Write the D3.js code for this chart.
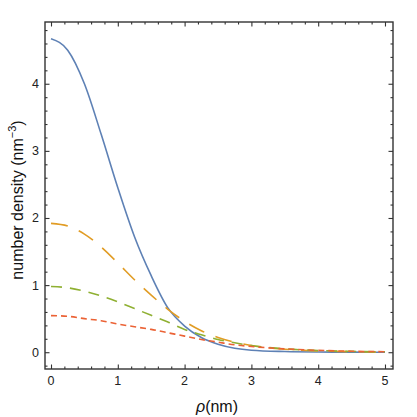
<!DOCTYPE html>
<html>
<head>
<meta charset="utf-8">
<script src="https://cdn.jsdelivr.net/npm/d3@7"></script>
<style>
  body { margin: 0; background: #fff; }
  text { font-family: "Liberation Sans", Arial, sans-serif; }
</style>
</head>
<body>
<div id="chart"></div>
<script>
// rho values (nm) the densities were read at
const rho = [0, 0.25, 0.5, 0.75, 1, 1.25, 1.5, 1.75, 2, 2.25, 2.5, 2.75, 3, 3.5, 4, 4.5, 5];

// number density for each curve
const blue   = [4.67, 4.50, 4.00, 3.25, 2.45, 1.72, 1.14, 0.66, 0.39, 0.22, 0.12, 0.06, 0.03, 0.01, 0.003, 0.001, 0.0];
const orange = [1.92, 1.88, 1.76, 1.57, 1.33, 1.08, 0.85, 0.64, 0.46, 0.32, 0.22, 0.15, 0.10, 0.045, 0.02, 0.008, 0.003];
const green  = [0.98, 0.96, 0.91, 0.84, 0.75, 0.65, 0.55, 0.45, 0.34, 0.26, 0.19, 0.14, 0.10, 0.05, 0.025, 0.012, 0.006];
const red    = [0.545, 0.535, 0.50, 0.47, 0.42, 0.38, 0.34, 0.29, 0.24, 0.19, 0.15, 0.11, 0.085, 0.05, 0.028, 0.015, 0.008];

const xTicks = [0, 1, 2, 3, 4, 5];
const yTicks = [0, 1, 2, 3, 4];

const series = [
  {vals: blue,   color: "#5E81B5", dash: null},
  {vals: orange, color: "#E19C24", dash: "17,12"},
  {vals: green,  color: "#8FB032", dash: "11,8"},
  {vals: red,    color: "#EB6235", dash: "6,4"}
];

let width = 417, height = 417;
let plotL = 45, plotR = 393, plotT = 22, plotB = 369;

let svg = d3.select("#chart").append("svg").attr("width", width).attr("height", height);

let x = d3.scaleLinear().domain([-0.09, 5.12]).range([plotL, plotR]);
let y = d3.scaleLinear().domain([-0.25, 4.92]).range([plotB, plotT]);

svg.append("clipPath").attr("id", "clip")
  .append("rect").attr("x", plotL).attr("y", plotT).attr("width", plotR - plotL).attr("height", plotB - plotT);

let lineGen = d3.line().curve(d3.curveMonotoneX);

series.forEach(s => {
  let pts = rho.map((r, i) => [x(r), y(s.vals[i])]);
  let p = svg.append("path")
    .attr("d", lineGen(pts))
    .attr("clip-path", "url(#clip)")
    .style("fill", "none")
    .style("stroke", s.color)
    .style("stroke-width", 1.6);
  if (s.dash) p.style("stroke-dasharray", s.dash);
});

// minor ticks every 0.2
let xMinor = d3.range(0, 5.11, 0.2).filter(v => Math.abs(v - Math.round(v)) > 0.01);
let yMinor = d3.range(-0.2, 4.91, 0.2).filter(v => Math.abs(v - Math.round(v)) > 0.01);

// frame axes, ticks point inward
function frameAxis(axisFn, scale, ticks, size) {
  return axisFn(scale).tickValues(ticks).tickSize(size).tickFormat("");
}

let gBottom = svg.append("g").attr("transform", `translate(0,${plotB})`);
gBottom.call(frameAxis(d3.axisTop, x, xTicks, 4.5));
gBottom.append("g").call(frameAxis(d3.axisTop, x, xMinor, 2.5));

let gTop = svg.append("g").attr("transform", `translate(0,${plotT})`);
gTop.call(frameAxis(d3.axisBottom, x, xTicks, 4.5));
gTop.append("g").call(frameAxis(d3.axisBottom, x, xMinor, 2.5));

let gLeft = svg.append("g").attr("transform", `translate(${plotL},0)`);
gLeft.call(frameAxis(d3.axisRight, y, yTicks, 4.5));
gLeft.append("g").call(frameAxis(d3.axisRight, y, yMinor, 2.5));

let gRight = svg.append("g").attr("transform", `translate(${plotR},0)`);
gRight.call(frameAxis(d3.axisLeft, y, yTicks, 4.5));
gRight.append("g").call(frameAxis(d3.axisLeft, y, yMinor, 2.5));

svg.selectAll(".domain").remove();
svg.selectAll(".tick line").style("stroke", "#333").style("stroke-width", 1.1);

svg.append("rect")
  .attr("x", plotL).attr("y", plotT).attr("width", plotR - plotL).attr("height", plotB - plotT)
  .style("fill", "none").style("stroke", "#333").style("stroke-width", 1.4);

// tick labels
svg.append("g").selectAll("text").data(xTicks).join("text")
  .attr("x", d => x(d)).attr("y", plotB + 16)
  .attr("text-anchor", "middle").style("font-size", "12.5px").style("fill", "#222")
  .text(d => d);

svg.append("g").selectAll("text").data(yTicks).join("text")
  .attr("x", plotL - 6).attr("y", d => y(d) + 4.5)
  .attr("text-anchor", "end").style("font-size", "12.5px").style("fill", "#222")
  .text(d => d);

// axis labels
let xl = svg.append("text").attr("x", 217).attr("y", 412)
  .attr("text-anchor", "middle").style("font-size", "16px").style("fill", "#111");
xl.append("tspan").style("font-style", "italic").text("ρ");
xl.append("tspan").text("(nm)");

let yl = svg.append("text")
  .attr("transform", "translate(23,200) rotate(-90)")
  .attr("text-anchor", "middle").style("font-size", "16px").style("fill", "#111");
yl.append("tspan").text("number density (nm");
yl.append("tspan").attr("dy", -7).style("font-size", "11px").text("−3");
yl.append("tspan").attr("dy", 7).text(")");
</script>
</body>
</html>
